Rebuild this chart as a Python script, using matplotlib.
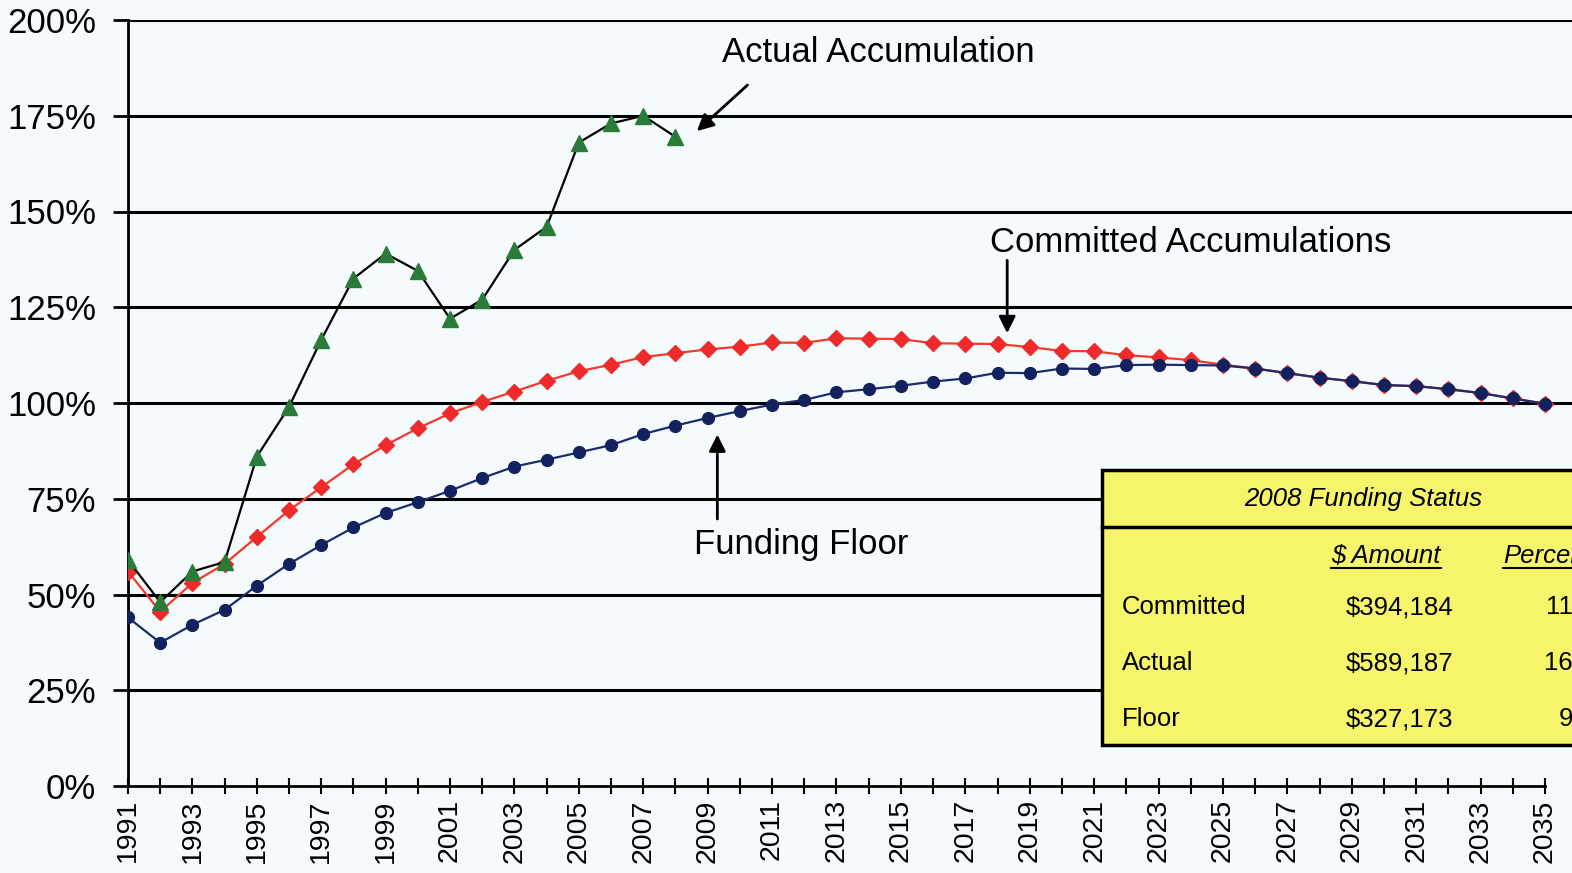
"""Funding status chart: actual vs committed accumulations vs funding floor."""
import matplotlib
matplotlib.use("Agg")
import matplotlib.pyplot as plt
from matplotlib.patches import Rectangle

plt.rcParams['font.family'] = ['Liberation Sans', 'DejaVu Sans']

years = list(range(1991, 2036))

actual = [59, 48, 56, 58.5, 86, 99, 116.5, 132.5, 139, 134.5, 122, 127, 140, 146,
          168, 173, 175, 169.5]

committed = [56, 45.5, 53, 58, 65, 72, 78, 84, 89, 93.4, 97.3, 100.3, 103, 105.8,
             108.3, 110, 112, 113, 114, 114.7, 115.8, 115.7, 116.9, 116.8, 116.7,
             115.6, 115.5, 115.4, 114.6, 113.6, 113.5, 112.5, 111.9, 111.2, 110,
             109, 107.8, 106.6, 105.7, 104.7, 104.4, 103.6, 102.6, 101.2, 99.8]

floor = [44, 37.4, 42.1, 46, 52.3, 58, 62.9, 67.5, 71.3, 74.1, 77.1, 80.4, 83.4,
         85.2, 87.1, 89, 91.9, 94.1, 96.1, 97.9, 99.6, 100.8, 102.8, 103.6, 104.5,
         105.6, 106.4, 107.9, 107.8, 109, 108.9, 109.9, 110, 109.9, 109.8, 109,
         107.8, 106.6, 105.7, 104.7, 104.4, 103.6, 102.6, 101.2, 99.8]

y_ticks = [0, 25, 50, 75, 100, 125, 150, 175, 200]

table_title = "2008 Funding Status"
table_rows = ["Committed", "Actual", "Floor"]
table_amounts = ["$394,184", "$589,187", "$327,173"]
table_percents = ["113%", "169%", "94%"]

bg = '#f5fbfd'
fig = plt.figure(figsize=(15.72, 8.73), dpi=100, facecolor=bg)
# axes spans from the 1991 axis line out to the right edge of the figure
ax = fig.add_axes([128 / 1572, 1 - 786 / 873, 1 - 128 / 1572, (786 - 20) / 873])
ax.set_facecolor(bg)
x_right = 1991 + 44 * (1572 - 128) / (1545 - 128)
ax.set_xlim(1991, x_right)
ax.set_ylim(0, 200)

for v in y_ticks[1:]:
    ax.axhline(v, color='black', lw=2.2, zorder=1)

ax.plot(years, committed, color='#f23a2a', lw=1.6, marker='D', ms=8,
        mfc='#ee2a2a', mec='#ee2a2a', zorder=3)
ax.plot(years, floor, color='#1c2a6e', lw=1.6, marker='o', ms=8.5,
        mfc='#13215e', mec='#13215e', zorder=4)
ax.plot(years[:len(actual)], actual, color='black', lw=1.6, marker='^', ms=11,
        mfc='#2a7a3a', mec='#2a7a3a', zorder=5)

for side in ['top', 'right']:
    ax.spines[side].set_visible(False)
ax.spines['left'].set_linewidth(2)
ax.spines['bottom'].set_linewidth(2)
ax.spines['bottom'].set_bounds(1991, 2035)
ax.spines['left'].set_bounds(0, 200)

ax.set_yticks(y_ticks)
ax.set_yticklabels([f"{v}%" for v in y_ticks], fontsize=25)
ax.tick_params(axis='y', direction='out', length=11, width=2, pad=12)
ax.set_xticks(years)
ax.set_xticklabels([str(y) if (y - 1991) % 2 == 0 else '' for y in years],
                   rotation=90, fontsize=20.5)
ax.tick_params(axis='x', direction='inout', length=11, width=1.5, pad=4)

arrow = dict(arrowstyle='-|>', color='black', lw=2, mutation_scale=25)
ax.annotate('', xy=(2008.6, 170.5), xytext=(2010.3, 183.5), arrowprops=arrow)
ax.text(2014.3, 191.5, "Actual Accumulation", fontsize=25, ha='center', va='center')
ax.annotate('', xy=(2018.3, 117.5), xytext=(2018.3, 138), arrowprops=arrow)
ax.text(2024.0, 142, "Committed Accumulations", fontsize=25, ha='center', va='center')
ax.annotate('', xy=(2009.3, 92.5), xytext=(2009.3, 69), arrowprops=arrow)
ax.text(2011.9, 63, "Funding Floor", fontsize=25, ha='center', va='center')

# funding status box, cut off by the right edge like the original
x0, y_top, y_bot = 1102 / 1572, 1 - 470 / 873, 1 - 745 / 873
fig.patches.append(Rectangle((x0, y_bot), 0.4, y_top - y_bot, transform=fig.transFigure,
                             facecolor='#f6f46a', edgecolor='black', lw=2.5, zorder=10))
fig.lines.append(plt.Line2D([x0, 1.0], [1 - 527 / 873] * 2, transform=fig.transFigure,
                            color='black', lw=2.5, zorder=11))
fig.text(1363 / 1572, 1 - 499 / 873, table_title, fontsize=18.5, style='italic',
         ha='center', va='center', zorder=12)
fig.text(1386 / 1572, 1 - 556 / 873, "$ Amount", fontsize=18.5, style='italic',
         ha='center', va='center', zorder=12)
fig.lines.append(plt.Line2D([1331 / 1572, 1441 / 1572], [1 - 568 / 873] * 2,
                            transform=fig.transFigure, color='black', lw=1.5, zorder=12))
fig.text(1503 / 1572, 1 - 556 / 873, "Percent", fontsize=18.5, style='italic',
         ha='left', va='center', zorder=12)
fig.lines.append(plt.Line2D([1503 / 1572, 1.0], [1 - 568 / 873] * 2,
                            transform=fig.transFigure, color='black', lw=1.5, zorder=12))
for i, (name, amt, pct) in enumerate(zip(table_rows, table_amounts, table_percents)):
    yy = 1 - (607 + 56 * i) / 873
    fig.text(1122 / 1572, yy, name, fontsize=18.5, ha='left', va='center', zorder=12)
    fig.text(1453 / 1572, yy, amt, fontsize=18.5, ha='right', va='center', zorder=12)
    fig.text(1610 / 1572, yy, pct, fontsize=18.5, ha='right', va='center', zorder=12)

fig.savefig('out.png', dpi=100, facecolor=bg)
